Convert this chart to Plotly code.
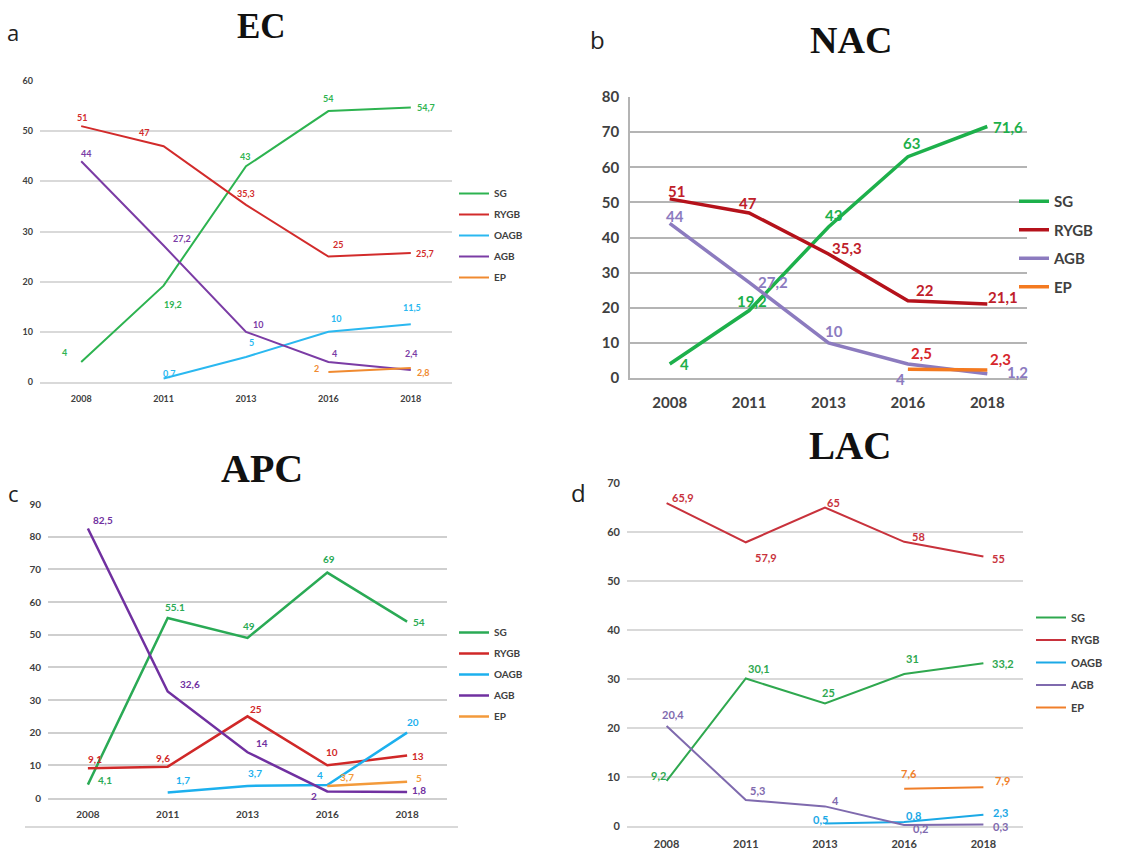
import plotly.graph_objects as go

W, H = 1145, 851

# ---------------- data ----------------
years = ["2008", "2011", "2013", "2016", "2018"]

ec_sg = [4, 19.2, 43, 54, 54.7]
ec_rygb = [51, 47, 35.3, 25, 25.7]
ec_oagb = [None, 0.7, 5, 10, 11.5]
ec_agb = [44, 27.2, 10, 4, 2.4]
ec_ep = [None, None, None, 2, 2.8]

nac_sg = [4, 19.2, 43, 63, 71.6]
nac_rygb = [51, 47, 35.3, 22, 21.1]
nac_agb = [44, 27.2, 10, 4, 1.2]
nac_ep = [None, None, None, 2.5, 2.3]

apc_sg = [4.1, 55.1, 49, 69, 54]
apc_rygb = [9.1, 9.6, 25, 10, 13]
apc_oagb = [None, 1.7, 3.7, 4, 20]
apc_agb = [82.5, 32.6, 14, 2, 1.8]
apc_ep = [None, None, None, 3.7, 5]

lac_sg = [9.2, 30.1, 25, 31, 33.2]
lac_rygb = [65.9, 57.9, 65, 58, 55]
lac_oagb = [None, None, 0.5, 0.8, 2.3]
lac_agb = [20.4, 5.3, 4, 0.2, 0.3]
lac_ep = [None, None, None, 7.6, 7.9]

# label text exceptions (as printed in the source)
apc_sg_labels = ["4,1", "55.1", "49", "69", "54"]


def fmt(v):
    if v is None:
        return None
    if float(v).is_integer():
        return str(int(v))
    return str(v).replace(".", ",")


# ---------------- styling ----------------
def px_x(p):
    return p / W


def px_y(p):
    return 1 - p / H


panels = [
    dict(key="a", title="EC", ax="", yr=60, dom_x=(40, 452), dom_y=(81, 382),
         lw=2, tick=9, lab=9, leg="legend", grid="#D9D9D9", xstand=7,
         title_xy=(261, 27, 35), letter_xy=(13, 32, 22),
         series=[
             ("SG", ec_sg, "#2DB350", "#2DB350",
              [(-17, 9), (9, -19), (-1, 10), (0, 13), (15, 0)]),
             ("RYGB", ec_rygb, "#D22B2B", "#D22B2B",
              [(1, 9), (-20, 14), (0, 11), (10, 12), (14, 0)]),
             ("OAGB", ec_oagb, "#2AB8F0", "#2AB8F0",
              [None, (6, 5), (5, 14), (8, 13), (1, 17)]),
             ("AGB", ec_agb, "#7B3CA5", "#7B3CA5",
              [(5, 8), (18, 7), (12, 7), (6, 8), (1, 16)]),
             ("EP", ec_ep, "#F08A30", "#F08A30",
              [None, None, None, (-12, 3), (13, -5)]),
         ]),
    dict(key="b", title="NAC", ax="2", yr=80, dom_x=(630, 1027), dom_y=(97, 378),
         lw=3.5, tick=15, lab=15, leg="legend2", grid="#B4B4B4", xstand=10,
         title_xy=(851, 40, 38), letter_xy=(597, 40, 24),
         series=[
             ("SG", nac_sg, "#1DB04B", "#1DB04B",
              [(15, 0), (3, 10), (5, 12), (4, 14), (21, 0)]),
             ("RYGB", nac_rygb, "#B5121B", "#C0202A",
              [(7, 8), (-1, 10), (18, 6), (17, 11), (16, 7)]),
             ("AGB", nac_agb, "#8C7BBF", "#8C7BBF",
              [(5, 7), (24, 0), (5, 12), (-7, -15), (30, 2)]),
             ("EP", nac_ep, "#F47A20", "#D6262B",
              [None, None, None, (14, 16), (13, 11)]),
         ]),
    dict(key="c", title="APC", ax="3", yr=90, dom_x=(48, 447), dom_y=(504, 798),
         lw=2.5, tick=10, lab=10, leg="legend3", grid="#CFCFCF", xstand=6,
         title_xy=(262, 469, 40), letter_xy=(13, 493, 22),
         series=[
             ("SG", apc_sg, "#2AAA55", "#2AAA55",
              [(17, 5), (7, 11), (1, 12), (2, 14), (12, 0)]),
             ("RYGB", apc_rygb, "#D02828", "#D02828",
              [(7, 9), (-5, 9), (8, 7), (5, 13), (11, 0)]),
             ("OAGB", apc_oagb, "#1CB0EE", "#1CB0EE",
              [None, (15, 12), (7, 13), (-7, 10), (6, 11)]),
             ("AGB", apc_agb, "#7030A0", "#7030A0",
              [(15, 9), (22, 8), (14, 9), (-13, -5), (12, 2)]),
             ("EP", apc_ep, "#F39A3B", "#F39A3B",
              [None, None, None, (20, 9), (12, 4)]),
         ]),
    dict(key="d", title="LAC", ax="4", yr=70, dom_x=(627, 1023), dom_y=(483, 826),
         lw=2, tick=11, lab=11, leg="legend4", grid="#D9D9D9", xstand=7,
         title_xy=(850, 445, 39), letter_xy=(578, 492, 24),
         series=[
             ("SG", lac_sg, "#2FA84F", "#2FA84F",
              [(-8, 5), (13, 10), (3, 11), (8, 16), (20, 0)]),
             ("RYGB", lac_rygb, "#C8323C", "#C8323C",
              [(16, 6), (20, -15), (8, 5), (14, 5), (15, -2)]),
             ("OAGB", lac_oagb, "#1BA9E6", "#1BA9E6",
              [None, None, (-5, 4), (9, 7), (17, 2)]),
             ("AGB", lac_agb, "#7F6AAE", "#7F6AAE",
              [(6, 12), (12, 10), (10, 6), (16, -3), (17, -2)]),
             ("EP", lac_ep, "#F07F2A", "#F07F2A",
              [None, None, None, (5, 15), (19, 7)]),
         ]),
]

legend_pos = {
    "legend": dict(x=454, y=179, size=10, gap=2),
    "legend2": dict(x=1014, y=185, size=15, gap=6),
    "legend3": dict(x=454, y=618, size=10, gap=2),
    "legend4": dict(x=1031, y=603, size=11, gap=3.5),
}

fig = go.Figure()
annotations = []
layout = {}

for p in panels:
    ax = p["ax"]
    xref = "x" + ax
    yref = "y" + ax
    for name, vals, col, labcol, offs in p["series"]:
        fig.add_trace(go.Scatter(
            x=years, y=vals, mode="lines", name=name,
            line=dict(color=col, width=p["lw"]),
            xaxis=xref, yaxis=yref, legend=p["leg"],
            legendgroup=p["key"] + name, connectgaps=False,
            hoverinfo="skip",
        ))
        labels = apc_sg_labels if vals is apc_sg else [fmt(v) for v in vals]
        for i, (v, t, o) in enumerate(zip(vals, labels, offs)):
            if v is None or o is None:
                continue
            annotations.append(dict(
                x=i, y=v, xref=xref, yref=yref, text=t, showarrow=False,
                xshift=o[0], yshift=o[1], xanchor="center", yanchor="middle",
                font=dict(family="Lato", size=p["lab"], color=labcol, weight="bold"),
            ))
    layout["xaxis" + ax] = dict(
        domain=[px_x(p["dom_x"][0]), px_x(p["dom_x"][1])],
        anchor=yref, type="category", range=[-0.5, 4.5], automargin=False,
        showgrid=False, showline=True, linecolor=p["grid"], linewidth=1.5,
        ticks="", ticklabelstandoff=p["xstand"],
        tickfont=dict(family="Lato", size=p["tick"], color="#404040", weight="bold"),
        fixedrange=True,
    )
    layout["yaxis" + ax] = dict(
        domain=[px_y(p["dom_y"][1]), px_y(p["dom_y"][0])],
        anchor=xref, range=[0, p["yr"]], dtick=10, tick0=0, automargin=False,
        showgrid=True, gridcolor=p["grid"], gridwidth=1.5 if p["key"] != "c" else 2,
        zeroline=False, showline=(p["key"] == "b"), linecolor=p["grid"], linewidth=1.5,
        ticks="", ticklabelstandoff=6,
        tickfont=dict(family="Lato", size=p["tick"], color="#404040", weight="bold"),
        fixedrange=True,
    )
    lp = legend_pos[p["leg"]]
    layout[p["leg"]] = dict(
        x=px_x(lp["x"]), y=px_y(lp["y"]), xanchor="left", yanchor="top",
        bgcolor="rgba(0,0,0,0)", tracegroupgap=lp["gap"], itemwidth=30,
        font=dict(family="Lato", size=lp["size"], color="#404040", weight="bold"),
        orientation="v",
    )
    tx, ty, ts = p["title_xy"]
    annotations.append(dict(
        x=px_x(tx), y=px_y(ty), xref="paper", yref="paper", text=p["title"],
        showarrow=False, xanchor="center", yanchor="middle",
        font=dict(family="Liberation Serif", size=ts, color="#111111", weight="bold"),
    ))
    lx, ly, ls = p["letter_xy"]
    annotations.append(dict(
        x=px_x(lx), y=px_y(ly), xref="paper", yref="paper", text=p["key"],
        showarrow=False, xanchor="center", yanchor="middle",
        font=dict(family="Open Sans", size=ls, color="#222222"),
    ))

shapes = [dict(type="line", xref="paper", yref="paper",
               x0=px_x(25), x1=px_x(458), y0=px_y(827), y1=px_y(827),
               line=dict(color="#D9D9D9", width=2))]

fig.update_layout(
    width=W, height=H, margin=dict(l=0, r=0, t=0, b=0, pad=0, autoexpand=False),
    paper_bgcolor="white", plot_bgcolor="white",
    annotations=annotations, shapes=shapes, showlegend=True,
    **layout,
)

fig.write_html("out.html", config={"displayModeBar": False},
               post_script="document.body.style.margin='0';")
